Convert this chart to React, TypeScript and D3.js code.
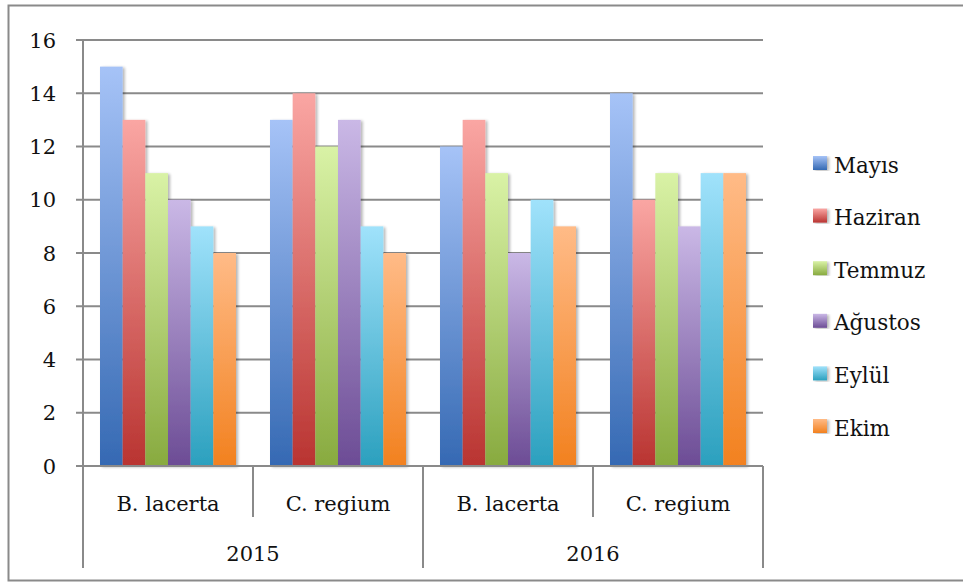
import React from "react";
import * as d3 from "d3";

// Two-level category axis: species within year
const years = ["2015", "2016"];
const species = ["B. lacerta", "C. regium"];
const months = ["Mayıs", "Haziran", "Temmuz", "Ağustos", "Eylül", "Ekim"];

// Values per (year, species) slot, one per month
const b2015 = [15, 13, 11, 10, 9, 8];
const c2015 = [13, 14, 12, 13, 9, 8];
const b2016 = [12, 13, 11, 8, 10, 9];
const c2016 = [14, 10, 11, 9, 11, 11];

const yTicks = [0, 2, 4, 6, 8, 10, 12, 14, 16];

// Light (top) and dark (bottom) gradient stops per month
const lightColors = ["#a6c3f7", "#faa6a3", "#d9f2a6", "#cab8e6", "#a0e2fb", "#ffbb87"];
const darkColors = ["#3569b3", "#b93431", "#88aa3f", "#6c4c95", "#2ba0be", "#f2811f"];

const W = 963;
const H = 583;
const FONT = "'DejaVu Serif', serif";
const GRID = "#8a8a8a";

export default function App() {
  const slots = years.flatMap((yr) => species.map((sp) => ({ yr, sp })));
  const slotValues = [b2015, c2015, b2016, c2016];

  const x0 = d3.scaleBand<number>().domain(d3.range(slots.length)).range([83, 763]).padding(0);
  const x1 = d3
    .scaleBand<number>()
    .domain(d3.range(months.length))
    .range([0, x0.bandwidth()])
    .paddingInner(0)
    .paddingOuter(0.75);
  const y = d3.scaleLinear().domain([0, 16]).range([466, 40]);

  const axisY = y(0);
  const rowLabelY = 503;
  const yearLabelY = 553;
  const shortTickEnd = 517;
  const longTickEnd = 568;

  const legendX = 813;
  const legendY0 = 163;
  const legendStep = 52.6;

  return (
    <svg
      width={W}
      height={H}
      style={{ position: "absolute", left: 0, top: 0, background: "#fff" }}
      fontFamily={FONT}
    >
      <defs>
        {months.map((m, i) => (
          <linearGradient key={m} id={`g${i}`} x1="0" y1="0" x2="0" y2="1">
            <stop offset="0" stopColor={lightColors[i]} />
            <stop offset="1" stopColor={darkColors[i]} />
          </linearGradient>
        ))}
        <filter id="shadow" x="-20%" y="-5%" width="150%" height="110%">
          <feGaussianBlur in="SourceAlpha" stdDeviation="1.5" />
          <feOffset dx="2" dy="1" result="b" />
          <feComponentTransfer>
            <feFuncA type="linear" slope="0.3" />
          </feComponentTransfer>
          <feMerge>
            <feMergeNode />
            <feMergeNode in="SourceGraphic" />
          </feMerge>
        </filter>
      </defs>

      {/* outer frame */}
      <rect x={8.5} y={5.5} width={962} height={575} fill="#fff" stroke={GRID} strokeWidth={2} />

      {/* gridlines + y ticks */}
      {yTicks.map((t) => (
        <g key={t}>
          <line x1={76} x2={763} y1={y(t)} y2={y(t)} stroke={GRID} strokeWidth={2} />
          <text x={56} y={y(t)} dy="0.36em" textAnchor="end" fontSize={21} fill="#111">
            {t}
          </text>
        </g>
      ))}

      {/* y axis line */}
      <line x1={83} x2={83} y1={y(16)} y2={axisY} stroke={GRID} strokeWidth={2} />

      {/* bars */}
      {slots.map((s, si) => (
        <g key={si} transform={`translate(${x0(si)},0)`}>
          {slotValues[si].map((v, mi) => (
            <rect
              key={mi}
              x={x1(mi)}
              y={y(v)}
              width={x1.bandwidth()}
              height={axisY - y(v)}
              fill={`url(#g${mi})`}
              filter="url(#shadow)"
            />
          ))}
        </g>
      ))}

      {/* category axis */}
      <line x1={83} x2={763} y1={axisY} y2={axisY} stroke={GRID} strokeWidth={2} />
      {d3.range(slots.length + 1).map((i) => {
        const xx = i < slots.length ? (x0(i) as number) : 763;
        const isYearEdge = i % species.length === 0;
        return (
          <line
            key={i}
            x1={xx}
            x2={xx}
            y1={axisY}
            y2={isYearEdge ? longTickEnd : shortTickEnd}
            stroke={GRID}
            strokeWidth={2}
          />
        );
      })}
      {slots.map((s, si) => (
        <text
          key={si}
          x={(x0(si) as number) + x0.bandwidth() / 2}
          y={rowLabelY}
          dy="0.36em"
          textAnchor="middle"
          fontSize={21}
          fill="#111"
        >
          {s.sp}
        </text>
      ))}
      {years.map((yr, yi) => (
        <text
          key={yr}
          x={(x0(yi * species.length) as number) + x0.bandwidth() * species.length / 2}
          y={yearLabelY}
          dy="0.36em"
          textAnchor="middle"
          fontSize={21}
          fill="#111"
        >
          {yr}
        </text>
      ))}

      {/* legend */}
      {months.map((m, i) => (
        <g key={m} transform={`translate(${legendX},${legendY0 + i * legendStep})`}>
          <rect x={0} y={-7} width={14} height={14} fill={`url(#g${i})`} filter="url(#shadow)" />
          <text x={21} y={0} dy="0.45em" fontSize={21.5} fill="#111">
            {m}
          </text>
        </g>
      ))}
    </svg>
  );
}
